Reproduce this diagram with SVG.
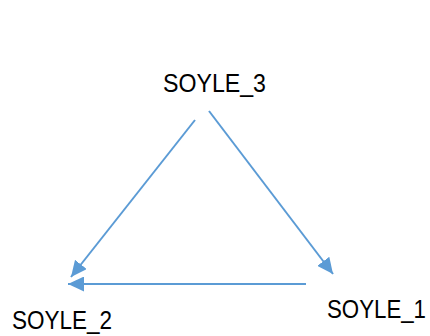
<svg xmlns="http://www.w3.org/2000/svg" width="430" height="336" viewBox="0 0 430 336">
<style>
.lbl{font-family:"Liberation Sans",Arial,sans-serif;font-size:26px;fill:#000}
.edge{stroke:#5B9BD5;stroke-width:2;fill:none;marker-end:url(#ah)}
</style>
<defs>
<marker id="ah" viewBox="0 0 10 10" refX="10" refY="5" markerWidth="8" markerHeight="7.5" markerUnits="strokeWidth" orient="auto" preserveAspectRatio="none">
<path d="M0,0 L10,5 L0,10 Z" fill="#5B9BD5"/>
</marker>
</defs>
<rect width="430" height="336" fill="#fff"/>
<g id="connectors">
<line class="edge" x1="195" y1="120" x2="71" y2="277"/>
<line class="edge" x1="209" y1="111" x2="333" y2="274"/>
<line class="edge" x1="306" y1="284" x2="68" y2="284"/>
</g>
<g id="SOYLE_3"><text class="lbl" x="163" y="92" textLength="103" lengthAdjust="spacingAndGlyphs">SOYLE_3</text></g>
<g id="SOYLE_2"><text class="lbl" x="12" y="329" textLength="100" lengthAdjust="spacingAndGlyphs">SOYLE_2</text></g>
<g id="SOYLE_1"><text class="lbl" x="327" y="318" textLength="99" lengthAdjust="spacingAndGlyphs">SOYLE_1</text></g>
</svg>
